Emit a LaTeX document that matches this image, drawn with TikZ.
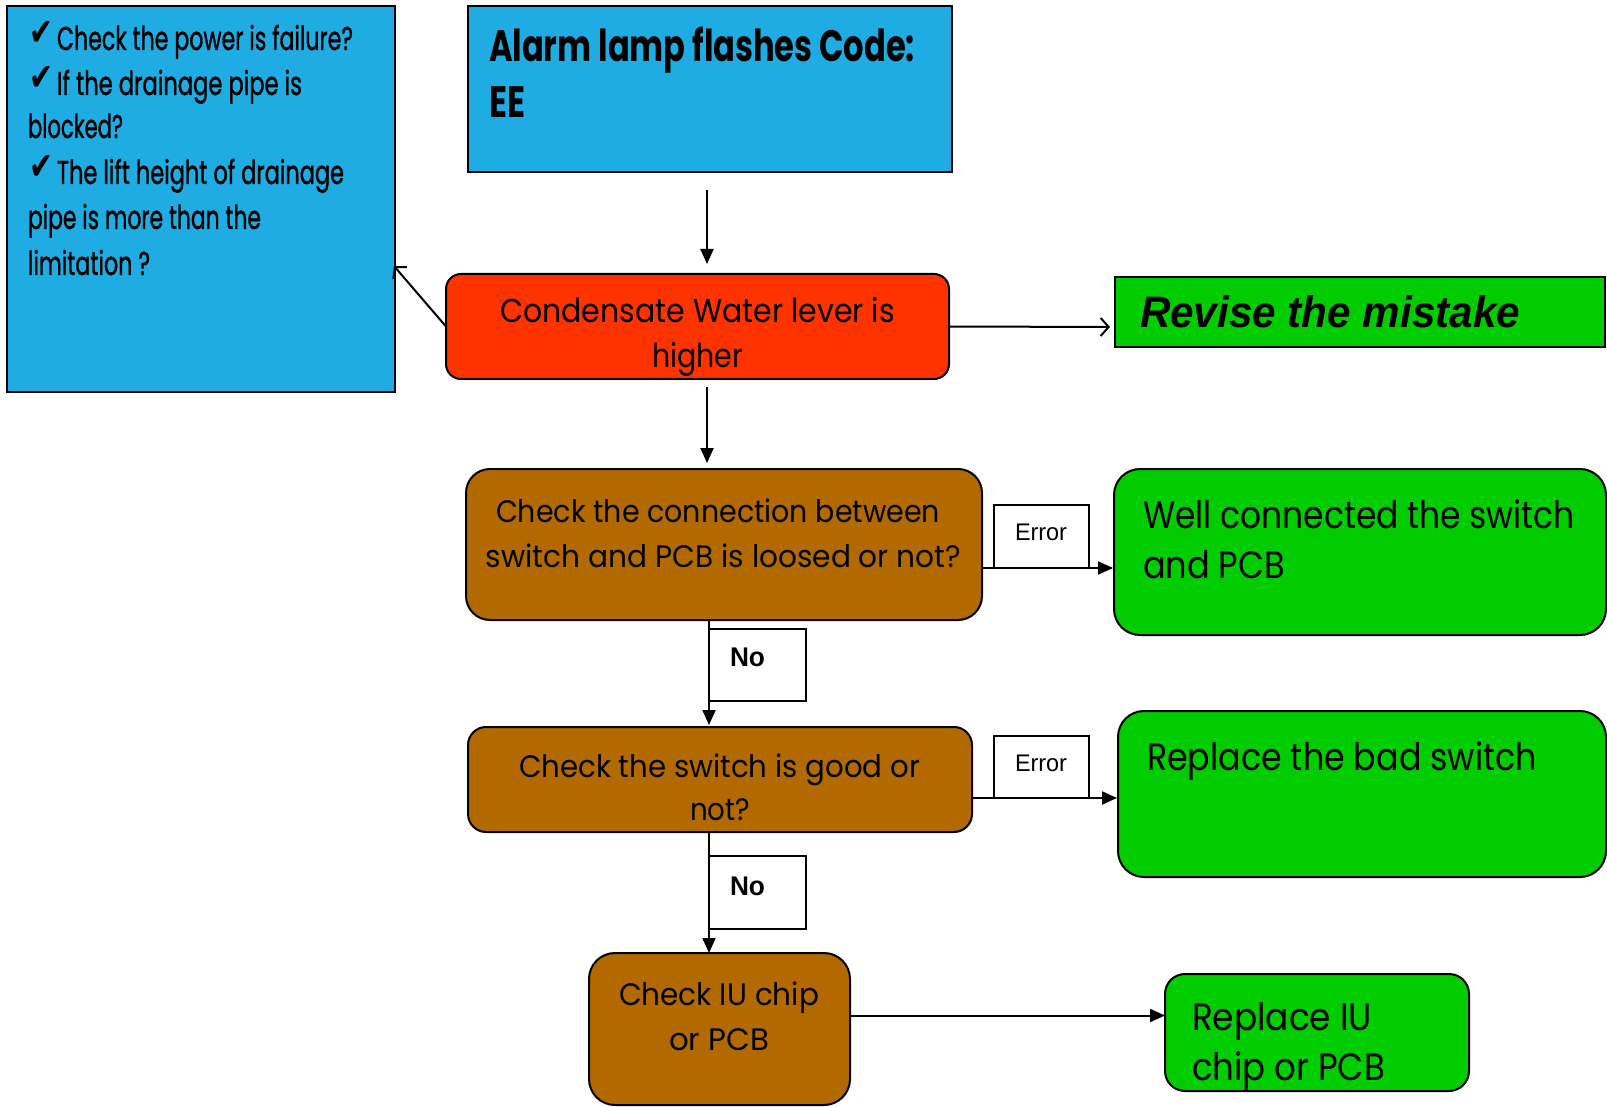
\documentclass[tikz,border=0pt]{standalone}
\usepackage{fontspec}
\usepackage{graphicx}
\usetikzlibrary{arrows.meta}
\setmainfont{Poppins}
\newfontfamily\condf[FakeBold=1.2]{Poppins}
\newfontfamily\arialf{Liberation Sans}
\newfontfamily\djv{DejaVu Sans}
\definecolor{skyb}{RGB}{30,172,227}
\definecolor{redb}{RGB}{255,51,0}
\definecolor{greenb}{RGB}{0,204,0}
\definecolor{brownb}{RGB}{178,106,0}
\newcommand{\fw}[2]{\resizebox{#1pt}{\height}{#2}}
\newcommand{\fsz}[1]{\fontsize{#1pt}{#1pt}\selectfont}
\newcommand{\ckm}{\resizebox{24pt}{24pt}{\djv ✔}}
\begin{document}
\begin{tikzpicture}[x=1pt,y=1pt,
  box/.style={draw=black, line width=2pt, inner sep=0pt, outer sep=0pt, anchor=north west},
  txt/.style={inner sep=0pt, outer sep=0pt, text=black},
  arr/.style={line width=2pt, -{Triangle[length=15pt,width=13pt]}},
  oarr/.style={line width=2pt, -{Straight Barb[length=8pt,width=18pt,line width=2pt]}},
  lbl/.style={draw=black, line width=1.6pt, fill=white, inner sep=0pt, outer sep=0pt, anchor=north west}]
\useasboundingbox (0,0) rectangle (1607,-1107);

% boxes
\node[box, fill=skyb, minimum width=388pt, minimum height=386pt] (info) at (7,-6) {};
\node[box, fill=skyb, minimum width=484pt, minimum height=166pt] (alarm) at (468,-6) {};
\node[box, fill=redb, rounded corners=15pt, minimum width=503pt, minimum height=105pt] (cond) at (446,-274) {};
\node[box, fill=greenb, minimum width=490pt, minimum height=70pt] (revise) at (1115,-277) {};
\node[box, fill=brownb, rounded corners=24pt, minimum width=516pt, minimum height=151pt] (chk1) at (466,-469) {};
\node[box, fill=greenb, rounded corners=26pt, minimum width=492pt, minimum height=166pt] (well) at (1114,-469) {};
\node[box, fill=brownb, rounded corners=18pt, minimum width=504pt, minimum height=105pt] (chk2) at (468,-727) {};
\node[box, fill=greenb, rounded corners=26pt, minimum width=488pt, minimum height=166pt] (repl) at (1118,-711) {};
\node[box, fill=brownb, rounded corners=26pt, minimum width=261pt, minimum height=152pt] (chk3) at (589,-953) {};
\node[box, fill=greenb, rounded corners=20pt, minimum width=304pt, minimum height=117pt] (repliu) at (1165,-974) {};

% connectors
\draw[arr] ([xshift=-3pt,yshift=-18pt]alarm.south) -- ([shift={(9.5,10)}]cond.north);
\draw[arr] ([shift={(9.5,-8)}]cond.south) -- ([shift={(-17,6)}]chk1.north);
\draw[oarr] (cond.west) -- ([shift={(-1,-67)}]info.east);
\draw[oarr] (cond.east) -- ([shift={(-5,-15)}]revise.west);
\coordinate (e1) at ([yshift=-23.5pt]chk1.east);
\draw[arr] (e1) -- ([xshift=-1pt]e1 -| well.west);
\coordinate (s1) at ([xshift=-15pt]chk1.south);
\draw[arr] (s1) -- ([yshift=2pt]s1 |- chk2.north);
\coordinate (e2) at ([yshift=-18.5pt]chk2.east);
\draw[arr] (e2) -- ([xshift=-1pt]e2 -| repl.west);
\coordinate (s2) at ([xshift=-11pt]chk2.south);
\draw[arr] (s2) -- (s2 |- chk3.north);
\coordinate (e3) at ([yshift=13.5pt]chk3.east);
\draw[arr] (e3) -- (e3 -| repliu.west);

% connector labels
\node[lbl, minimum width=95pt, minimum height=63pt] (err1) at (994,-505) {};
\node[txt, anchor=base] (err1t) at (1041,-540) {\arialf\fsz{24}\fw{52}{Error}};
\node[lbl, minimum width=95pt, minimum height=62pt] (err2) at (994,-736) {};
\node[txt, anchor=base] (err2t) at (1041,-771) {\arialf\fsz{24}\fw{52}{Error}};
\node[lbl, minimum width=97pt, minimum height=72pt] (no1) at (709,-629) {};
\node[txt, anchor=base west] (no1t) at (730,-666) {\arialf\bfseries\fsz{27}\fw{35}{No}};
\node[lbl, minimum width=97pt, minimum height=73pt] (no2) at (709,-856) {};
\node[txt, anchor=base west] (no2t) at (730,-895) {\arialf\bfseries\fsz{27}\fw{35}{No}};

% info box text
\node[txt, anchor=south west] (ck1) at (29,-46) {\ckm};
\node[txt, anchor=base west] (i1) at (57,-50) {\condf\fsz{33}\fw{296}{Check the power is failure?}};
\node[txt, anchor=south west] (ck2) at (29,-91) {\ckm};
\node[txt, anchor=base west] (i2) at (57,-95) {\condf\fsz{33}\fw{245}{If the drainage pipe is}};
\node[txt, anchor=base west] (i3) at (28,-138) {\condf\fsz{33}\fw{95}{blocked?}};
\node[txt, anchor=south west] (ck3) at (29,-180) {\ckm};
\node[txt, anchor=base west] (i4) at (57,-184) {\condf\fsz{33}\fw{287}{The lift height of drainage}};
\node[txt, anchor=base west] (i5) at (28,-229) {\condf\fsz{33}\fw{233}{pipe is more than the}};
\node[txt, anchor=base west] (i6) at (28,-275) {\condf\fsz{33}\fw{122}{limitation ?}};

% alarm text
\node[txt, anchor=base west] (a1) at (489,-62) {\bfseries\fsz{44}\fw{426}{Alarm lamp flashes Code:}};
\node[txt, anchor=base west] (a2) at (489,-118) {\bfseries\fsz{44}\fw{36}{EE}};

% condensate
\node[txt, anchor=base] (c1) at (697.5,-323) {\fsz{33}\fw{395}{Condensate Water lever is}};
\node[txt, anchor=base] (c2) at (697.5,-368) {\fsz{33}\fw{91}{higher}};

% revise
\node[txt, anchor=base west] (r1) at (1140,-328) {\arialf\bfseries\itshape\fsz{44}\fw{380}{Revise the mistake}};

% check 1
\node[txt, anchor=base] (k1a) at (718,-522) {\fsz{31}\fw{444}{Check the connection between}};
\node[txt, anchor=base] (k1b) at (723.5,-567) {\fsz{31}\fw{475}{switch and PCB is loosed or not?}};

% well
\node[txt, anchor=base west] (w1) at (1143,-528) {\fsz{38}\fw{432}{Well connected the switch}};
\node[txt, anchor=base west] (w2) at (1143,-578) {\fsz{38}\fw{142}{and PCB}};

% check 2
\node[txt, anchor=base] (k2a) at (719.5,-777) {\fsz{31}\fw{401}{Check the switch is good or}};
\node[txt, anchor=base] (k2b) at (720,-820) {\fsz{31}\fw{60}{not?}};

% replace switch
\node[txt, anchor=base west] (p1) at (1147,-770) {\fsz{38}\fw{390}{Replace the bad switch}};

% check 3
\node[txt, anchor=base] (k3a) at (719,-1005) {\fsz{31}\fw{200}{Check IU chip}};
\node[txt, anchor=base] (k3b) at (719,-1050) {\fsz{31}\fw{100}{or PCB}};

% replace IU
\node[txt, anchor=base west] (u1) at (1192,-1030) {\fsz{38}\fw{180}{Replace IU}};
\node[txt, anchor=base west] (u2) at (1192,-1080) {\fsz{38}\fw{193}{chip or PCB}};
\end{tikzpicture}
\end{document}
